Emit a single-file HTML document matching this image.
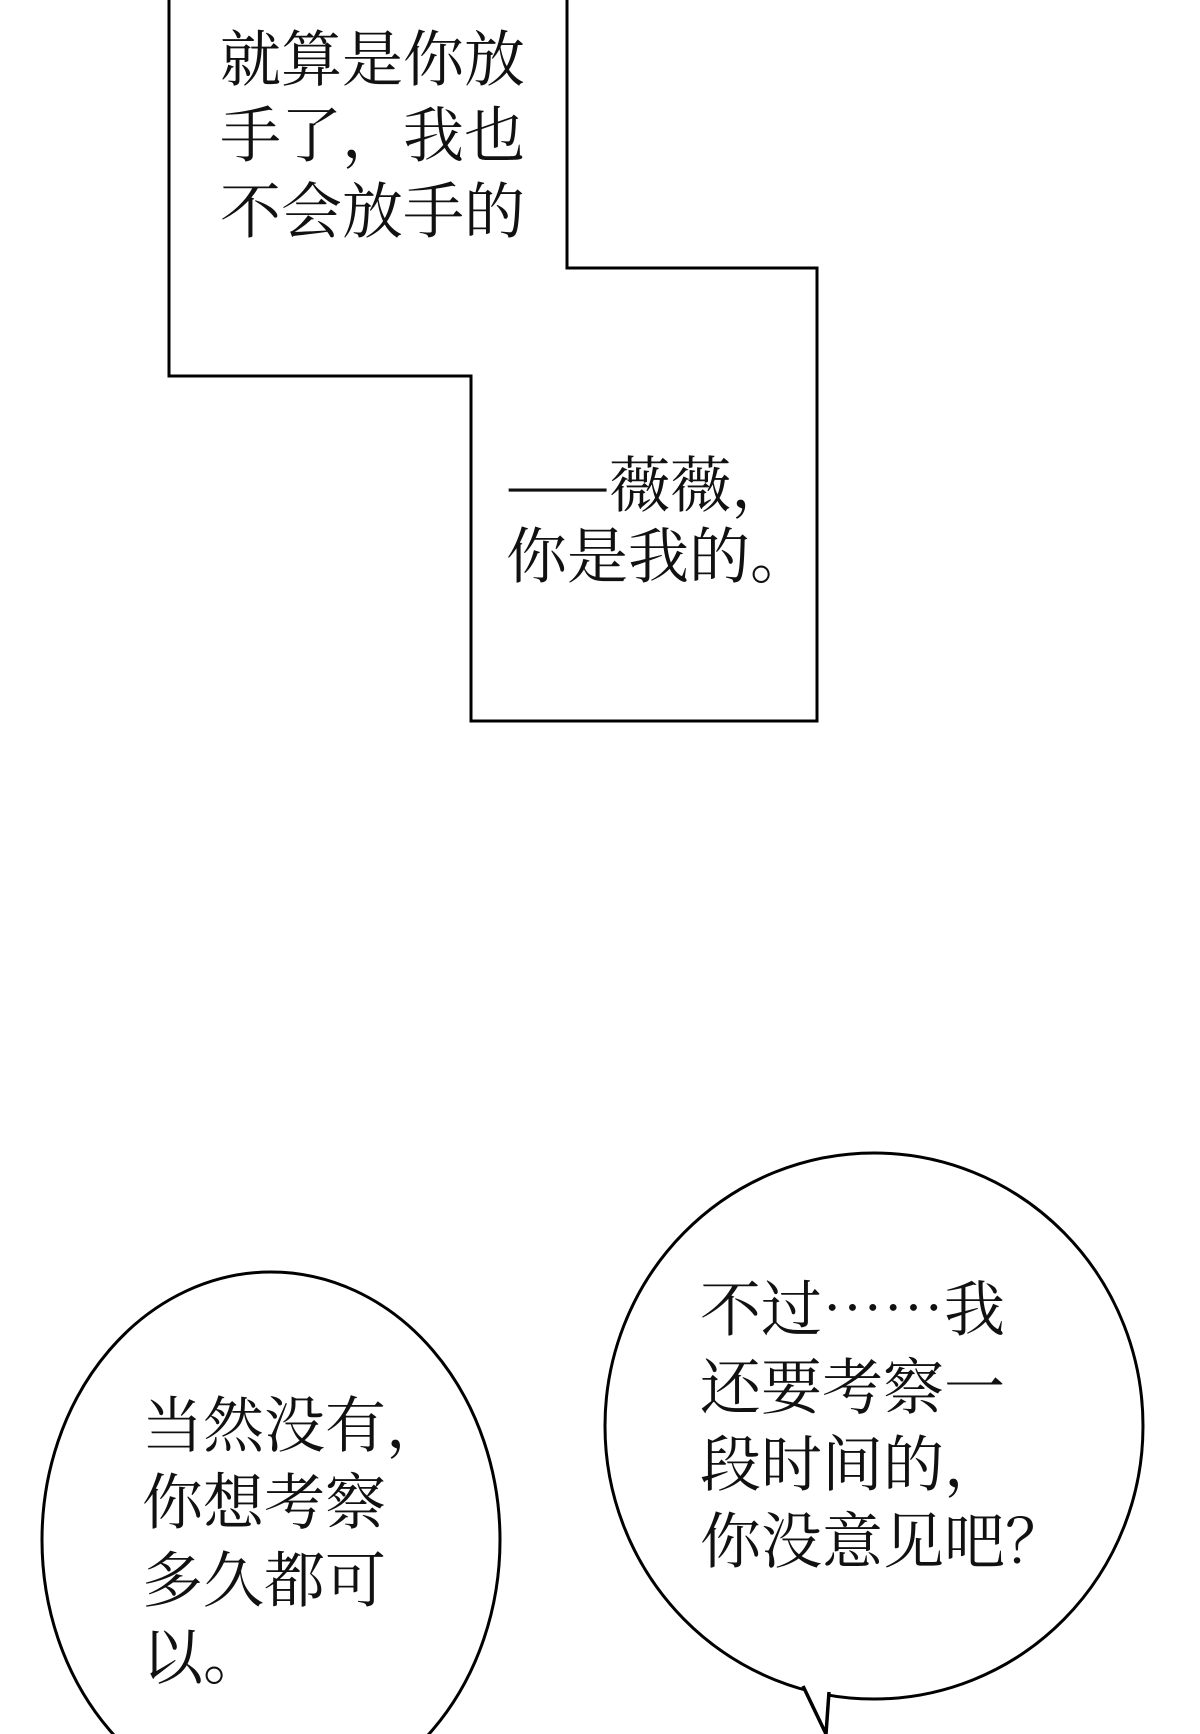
<!DOCTYPE html>
<html><head><meta charset="utf-8"><style>
html,body{margin:0;padding:0;background:#fff;}
svg{display:block;}
text{font-family:"Noto Serif CJK SC","Liberation Serif",serif;fill:#111;font-size:61px;}
</style></head><body>
<svg width="1200" height="1734" viewBox="0 0 1200 1734" xmlns="http://www.w3.org/2000/svg">
<rect width="1200" height="1734" fill="#fff"/>
<path d="M169,-5 L169,376 L471,376 L471,721 L817,721 L817,268 L567,268 L567,-5" fill="#fff" stroke="#000" stroke-width="3"/>
<g dominant-baseline="central">
<text x="220" y="55">就算是你放</text>
<text x="220" y="131">手了，我也</text>
<text x="220" y="207">不会放手的</text>
<text x="506" y="481">——薇薇，</text>
<text x="506" y="552">你是我的。</text>
</g>
<ellipse cx="271" cy="1540" rx="229" ry="268" fill="#fff" stroke="#000" stroke-width="3"/>
<ellipse cx="874" cy="1426" rx="269" ry="273" fill="#fff" stroke="#000" stroke-width="3"/>
<path d="M801,1684 L826,1734 L829,1690 Z" fill="#fff"/>
<path d="M803,1686 L826,1734 L829,1692" fill="none" stroke="#000" stroke-width="3.5" stroke-linejoin="miter"/>
<g dominant-baseline="central">
<text x="142" y="1421">当然没有，</text>
<text x="142" y="1498">你想考察</text>
<text x="142" y="1576">多久都可</text>
<text x="142" y="1653">以。</text>
<text x="700" y="1305">不过……我</text>
<text x="700" y="1383">还要考察一</text>
<text x="700" y="1460">段时间的，</text>
<text x="700" y="1537">你没意见吧？</text>
</g>
</svg>
</body></html>
